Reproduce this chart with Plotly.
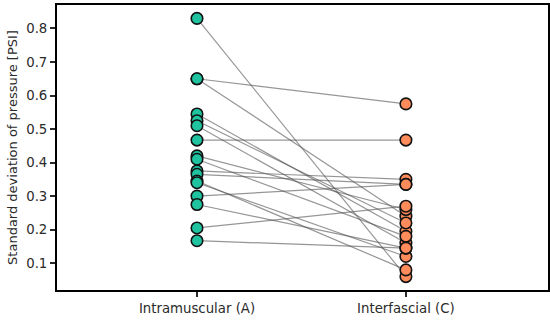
import plotly.graph_objects as go

categories = ["Intramuscular (A)", "Interfascial (C)"]
intramuscular = [0.83, 0.65, 0.65, 0.545, 0.525, 0.51, 0.467, 0.42, 0.41,
                 0.375, 0.365, 0.345, 0.34, 0.30, 0.275, 0.205, 0.167]
interfascial = [0.06, 0.575, 0.24, 0.195, 0.22, 0.16, 0.467, 0.26, 0.18,
                0.35, 0.335, 0.08, 0.12, 0.335, 0.145, 0.27, 0.145]
y_ticks = [0.1, 0.2, 0.3, 0.4, 0.5, 0.6, 0.7, 0.8]

fig = go.Figure()

lx, ly = [], []
for a, c in zip(intramuscular, interfascial):
    lx += [0, 1, None]
    ly += [a, c, None]
fig.add_trace(go.Scatter(x=lx, y=ly, mode="lines",
                         line=dict(color="rgba(80,80,80,0.6)", width=1.2),
                         hoverinfo="skip", showlegend=False))

fig.add_trace(go.Scatter(x=[0] * len(intramuscular), y=intramuscular, mode="markers",
                         marker=dict(size=11.5, color="#1fc3a0",
                                     line=dict(color="#111111", width=1.6)),
                         showlegend=False))
fig.add_trace(go.Scatter(x=[1] * len(interfascial), y=interfascial, mode="markers",
                         marker=dict(size=11.5, color="#ff8c5a",
                                     line=dict(color="#111111", width=1.6)),
                         showlegend=False))

fig.update_layout(
    width=550, height=321,
    margin=dict(l=57, r=2, t=5, b=31),
    paper_bgcolor="white", plot_bgcolor="white",
    font=dict(family="DejaVu Sans", size=13.3, color="#2a2a2a"),
    xaxis=dict(range=[-0.67, 1.68], tickmode="array", tickvals=[0, 1],
               ticktext=categories, showgrid=False, zeroline=False,
               showline=True, mirror=True, linecolor="black", linewidth=2,
               ticks="outside", ticklen=5, tickwidth=1.5, tickcolor="#2a2a2a",
               automargin=False),
    yaxis=dict(range=[0.02, 0.87], tickmode="array", tickvals=y_ticks,
               ticktext=[f"{v:.1f}" for v in y_ticks], showgrid=False, zeroline=False,
               showline=True, mirror=True, linecolor="black", linewidth=2,
               ticks="outside", ticklen=5, tickwidth=1.5, tickcolor="#2a2a2a",
               automargin=False,
               title=dict(text="Standard deviation of pressure [PSI]", standoff=6,
                          font=dict(size=13))),
)

fig.write_html("out.html", config={"displayModeBar": False},
               post_script="document.body.style.margin='0';")
